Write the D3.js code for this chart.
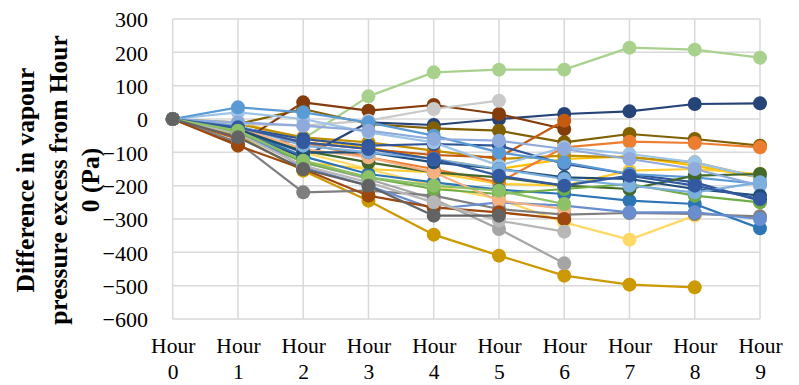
<!DOCTYPE html>
<html><head><meta charset="utf-8">
<script src="https://cdn.jsdelivr.net/npm/d3@7"></script>
<style>body{margin:0;background:#fff}svg{display:block}</style>
</head><body><svg id="c" width="799" height="385"></svg>
<script>
const hours = ["0","1","2","3","4","5","6","7","8","9"];
const yTicks = [300,200,100,0,-100,-200,-300,-400,-500,-600];
const titleLines = ["Difference in vapour","pressure excess from Hour","0 (Pa)"];

const s01 = [0,-30,-60,68,140,148,148,214,208,184];
const s02 = [0,-40,-115,-10,-18,0,15,23,45,47];
const s03 = [0,-15,30,-15,-28,-35,-70,-45,-60,-80];
const s04 = [0,-25,-70,-115,-150,-190,-85,-68,-72,-85];
const s05 = [0,-75,50,25,42,15,-30,null,null,null];
const s06 = [0,-60,-70,-90,-108,-115,-5,null,null,null];
const s07 = [0,-15,-20,-5,30,55,null,null,null,null];
const s08 = [0,-50,-155,-245,-347,-410,-470,-497,-505,null];
const s09 = [0,-40,-130,-180,-240,-330,-433,null,null,null];
const s10 = [0,-20,-100,-150,-200,-240,-310,-362,-290,null];
const s11 = [0,-70,-220,-215,-230,-270,-287,-282,-285,-292];
const s12 = [0,-30,-112,-165,-190,-212,-225,-245,-255,-328];
const s13 = [0,-25,-60,-80,-75,-80,-135,-165,-190,-245];
const s14 = [0,20,0,-40,-70,-140,-85,-105,-130,-176];
const s15 = [0,35,20,-10,-50,-100,-130,-165,-175,-195];
const s16 = [0,-35,-95,-130,-160,-175,-200,-210,-170,-165];
const s17 = [0,-40,-130,-175,-210,-225,-210,-195,-230,-250];
const s18 = [0,-30,-145,-200,-270,-250,-260,-280,-280,-300];
const s19 = [0,-10,-20,-35,-60,-65,-90,-120,-150,-200];
const s20 = [0,-25,-90,-115,-160,-245,-270,null,null,null];
const s21 = [0,-80,-150,-230,-265,-280,-300,null,null,null];
const s22 = [0,-15,-55,-70,-95,-120,-110,-115,-130,-176];
const s23 = [0,-10,-60,-85,-120,-150,-120,-112,-140,-176];
const s24 = [0,-30,-100,-100,-130,-150,-175,-180,-210,-230];
const s25 = [0,-20,-80,-100,-120,-150,-180,-200,-220,-190];
const s26 = [0,-25,-70,-90,-120,-170,-200,-170,-200,-240];
const s27 = [0,-45,-140,-190,-250,-305,-338,null,null,null];
const s28 = [0,-35,-125,-175,-200,-215,-255,null,null,null];
const s29 = [0,-55,-150,-200,-290,-290,null,null,null,null];
const s30 = [0,-20,-130,-150,-160,-195,-200,-155,-150,-165];

const seriesList = [s23,s30,s22,s01,s02,s03,s04,s05,s06,s07,s08,s09,s10,s11,s12,s13,s14,s15,s16,s17,s18,s19,s20,s21,s24,s25,s26,s27,s28,s29];
const colors = ["#FFC000","#FFCD33","#BF9000","#A9D18E","#264478","#806000","#ED7D31","#843C0C","#C55A11","#C9C9C9","#CC9900","#A5A5A5","#FFD966",
  "#7F7F7F","#2E75B6","#2F5597","#9DC3E6","#5B9BD5","#43682B","#70AD47","#698ED0","#8FAADC","#F4B183",
  "#9E480E","#1F4E79","#7CAFDD","#335AA1","#B7B7B7","#8CC168","#636363"];

const svg = d3.select("#c");
const x = d3.scalePoint().domain(hours).range([172.7, 760]);
const y = d3.scaleLinear().domain([-600, 300]).range([319, 19]);

const g = svg.append("g");
g.selectAll(".hg").data(yTicks).enter().append("line")
  .attr("x1", 172.7).attr("x2", 760).attr("y1", d => y(d)).attr("y2", d => y(d))
  .attr("stroke", "#d9d9d9").attr("stroke-width", 1.5);
g.selectAll(".vg").data(hours).enter().append("line")
  .attr("x1", d => x(d)).attr("x2", d => x(d)).attr("y1", y(300)).attr("y2", y(-600))
  .attr("stroke", "#d9d9d9").attr("stroke-width", 1.5);

const yAxis = d3.axisLeft(y).tickValues(yTicks).tickSize(0).tickPadding(0);
const ya = svg.append("g").attr("transform", "translate(148,0)").call(yAxis);
ya.select(".domain").remove();
ya.selectAll("text").attr("font-family", "'Liberation Serif','Times New Roman',serif")
  .attr("font-size", 22).attr("fill", "#000").attr("dy", "0.35em");

const xAxis = d3.axisBottom(x).tickSize(0).tickFormat(() => "");
const xa = svg.append("g").attr("transform", "translate(0,319)").call(xAxis);
xa.select(".domain").remove();
xa.selectAll(".tick text").each(function(d) {
  const t = d3.select(this).attr("y", 0).attr("dy", null)
    .attr("font-family", "'Liberation Serif','Times New Roman',serif")
    .attr("font-size", 21.5).attr("fill", "#000");
  t.append("tspan").attr("x", 0).attr("y", 34).text("Hour");
  t.append("tspan").attr("x", 0).attr("y", 59.5).text(d);
});

const tt = svg.append("text").attr("transform", "translate(0,180) rotate(-90)")
  .attr("text-anchor", "middle").attr("font-family", "'Liberation Serif','Times New Roman',serif")
  .attr("font-weight", "bold").attr("font-size", 25.5).attr("fill", "#000");
titleLines.forEach((l, i) => tt.append("tspan").attr("x", 0).attr("y", 34 + i * 32.5).text(l));

const line = d3.line().defined(d => d != null).x((d, i) => x(hours[i])).y(d => y(d));
svg.append("g").selectAll("path").data(seriesList).enter().append("path")
  .attr("d", d => line(d)).attr("fill", "none")
  .attr("stroke", (d, i) => colors[i]).attr("stroke-width", 2.25).attr("stroke-linejoin", "round");

const mg = svg.append("g");
seriesList.forEach((s, si) => {
  mg.selectAll(null).data(s.map((v, i) => ({v, i})).filter(p => p.v != null)).enter()
    .append("circle").attr("cx", p => x(hours[p.i])).attr("cy", p => y(p.v)).attr("r", 7)
    .attr("fill", colors[si]);
});
</script></body></html>
